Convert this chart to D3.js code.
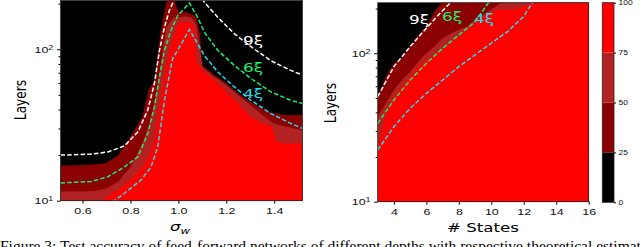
<!DOCTYPE html>
<html>
<head>
<meta charset="utf-8">
<title>Test accuracy vs depth</title>
<script src="https://d3js.org/d3.v7.min.js"></script>
<style>
  body { margin: 0; background: white; }
  svg { display: block; font-family: 'DejaVu Sans', sans-serif; }
  .caption { font-family: 'Liberation Serif', serif; }
</style>
</head>
<body>
<svg id="chart" width="640" height="247"></svg>
<script>

// ---- left panel: accuracy contours over sigma_w (layer count where each level ends)
var sigma = [0.508, 0.60, 0.65, 0.685, 0.70, 0.75, 0.80, 0.85, 0.875, 0.90, 0.925, 0.95, 0.975, 1.00, 1.025, 1.05, 1.065, 1.075, 1.09, 1.10, 1.15, 1.20, 1.25, 1.30, 1.35, 1.39, 1.41, 1.45, 1.518];
var sigmaAcc25 = [17.0, 17.2, 17.4, 17.6, 17.8, 20, 26.4, 35.8, 53.7, 62.5, 127, 205, 230, 177, 177, 172, 168, 163, 127, 78.5, 67.6, 59.4, 51, 45, 40.6, 38, 37.5, 36.8, 36.8];
var sigmaAcc50 = [11.5, 11.5, 11.6, 11.9, 12.1, 13.4, 16.7, 23.9, 30.8, 43.9, 76, 140, 159, 163, 165, 163, 155, 144, 103, 76, 65.8, 58, 49.7, 42.8, 36.8, 33, 32, 30.8, 29.2];
var sigmaAcc75 = [8, 8.5, 9.2, 10, 10.6, 11.8, 13.7, 16.7, 19.5, 25.1, 46, 80, 115, 149, 151, 151, 144, 84.5, 76, 72.8, 62.5, 52.3, 43.9, 35.8, 32.4, 31, 24.5, 23.9, 23.9];

// theoretical depth scales, left panel
var xi9Sigma = [0.508, 0.636, 0.706, 0.775, 0.831, 0.872, 0.90, 0.921, 0.942, 0.9625, 0.983, 1.046, 1.108, 1.164, 1.233, 1.303, 1.386, 1.469, 1.518];
var xi9Layers = [20, 20.3, 21, 23, 28.5, 39.6, 59.4, 98.5, 140, 181, 212, 300, 205, 163, 127, 104, 84, 72.5, 67.6];
var xi6Sigma = [0.508, 0.636, 0.706, 0.775, 0.831, 0.872, 0.90, 0.921, 0.942, 0.969, 0.997, 1.046, 1.08, 1.108, 1.164, 1.233, 1.303, 1.386, 1.469, 1.518];
var xi6Layers = [13.1, 13.4, 14.4, 16.7, 19.5, 27.8, 41.6, 65.8, 98.5, 133, 167, 202, 163, 130, 98.5, 78.5, 64, 52.3, 46, 43.9];
var xi4Sigma = [0.70, 0.733, 0.775, 0.844, 0.886, 0.914, 0.942, 0.976, 0.997, 1.046, 1.08, 1.108, 1.164, 1.233, 1.303, 1.386, 1.469, 1.518];
var xi4Layers = [9.3, 10, 11.2, 13.7, 16.7, 22.7, 46, 87, 98.5, 135, 109, 91, 71, 56.5, 46, 37.6, 32.4, 30];

// ---- right panel: accuracy contours over number of states
var states = [3, 3.5, 4, 4.5, 5, 5.5, 6, 6.5, 7, 7.5, 8, 8.5, 9, 9.5, 10, 10.5, 11, 11.5, 12, 12.5, 13, 14, 15, 16];
var statesAcc25 = [51, 69.6, 85.7, 92.5, 111, 133, 151, 191, 223, 260, 260, 260, 260, 260, 260, 260, 260, 260, 260, 260, 260, 260, 260, 260];
var statesAcc50 = [37.4, 46, 56.6, 66, 75, 87.8, 100, 111, 126, 136, 144, 151, 168, 181, 198, 215, 260, 260, 260, 260, 260, 260, 260, 260];
var statesAcc75 = [22.3, 39.4, 51, 59.6, 69.6, 81.3, 90.2, 97.5, 105, 120, 129, 144, 159, 177, 191, 196, 196, 198, 206, 220, 260, 260, 260, 260];

var xi9States = [3, 4, 5, 6, 6.94, 7.55, 8];
var xi9StLayers = [51, 81.3, 111, 147.6, 191, 223, 260];
var xi6States = [3, 4, 5, 6, 7, 8, 9, 9.8, 10.2];
var xi6StLayers = [33.7, 48.4, 66, 85.7, 108, 133, 163, 217, 240];
var xi4States = [3, 4, 5, 6, 7, 8, 9, 10, 11, 12, 12.5, 13];
var xi4StLayers = [22.3, 32, 42.6, 53.7, 66, 81.3, 97.5, 117, 140, 177, 217, 240];

// colour levels (test accuracy, %)
var levels = [0, 25, 50, 75, 100];
var levelColors = ["#000000", "#8b0000", "#b22222", "#ff0000"];
var xiNames = ["9\u03be", "6\u03be", "4\u03be"];
var xiColors = ["#ffffff", "#1aef6e", "#22dcec"];

var sigmaTicks = [0.6, 0.8, 1.0, 1.2, 1.4];
var stateTicks = [4, 6, 8, 10, 12, 14, 16];
var majorLayerTicks = [10, 100];
var minorLayerTicks = [20, 30, 40, 50, 60, 70, 80, 90, 200];

var SX = 1.3; // the figure is squeezed vertically, so glyphs look wide

var svg = d3.select("#chart");

function zip(a, b) {
  return a.map(function(v, i) { return [v, b[i]]; });
}

function drawPanel(p) {
  var g = svg.append("g");
  var x = p.x, y = p.y;
  var x0 = x.range()[0], x1 = x.range()[1];
  var yb = y.range()[0], yt = y.range()[1];

  g.append("clipPath").attr("id", p.id)
    .append("rect").attr("x", x0).attr("y", yt)
    .attr("width", x1 - x0).attr("height", yb - yt);

  var plot = g.append("g").attr("clip-path", "url(#" + p.id + ")");

  // lowest accuracy level fills everything first
  plot.append("rect")
    .attr("x", x0).attr("y", yt)
    .attr("width", x1 - x0).attr("height", yb - yt)
    .attr("fill", levelColors[0]);

  var area = d3.area()
    .x(function(d) { return x(d[0]); })
    .y0(yb + 20)
    .y1(function(d) { return y(d[1]); });

  p.bounds.forEach(function(b, i) {
    plot.append("path")
      .datum(zip(p.xs, b))
      .attr("d", area)
      .attr("fill", levelColors[i + 1]);
  });

  var line = d3.line()
    .x(function(d) { return x(d[0]); })
    .y(function(d) { return y(d[1]); });

  p.lines.forEach(function(l, i) {
    plot.append("path")
      .datum(zip(l[0], l[1]))
      .attr("d", line)
      .attr("fill", "none")
      .attr("stroke", xiColors[i])
      .attr("stroke-width", 1.5)
      .attr("stroke-dasharray", "4.5,2.2");
  });

  p.labels.forEach(function(l, i) {
    g.append("text")
      .attr("transform", "translate(" + l[0] + "," + l[1] + ") scale(" + SX + ",1)")
      .attr("text-anchor", "middle")
      .attr("font-size", 13)
      .attr("fill", xiColors[i])
      .text(xiNames[i]);
  });

  // frame
  g.append("rect")
    .attr("x", x0).attr("y", yt)
    .attr("width", x1 - x0).attr("height", yb - yt)
    .attr("fill", "none").attr("stroke", "#222").attr("stroke-width", 0.8);

  // x axis
  var xa = g.append("g")
    .attr("transform", "translate(0," + yb + ")")
    .call(d3.axisBottom(x).tickValues(p.xTicks).tickSize(3).tickPadding(3)
      .tickFormat(p.xFormat));
  xa.select(".domain").remove();
  xa.selectAll("text").attr("font-size", 9.6).attr("fill", "#111")
    .attr("transform", "scale(" + SX + ",1)");

  // y axis, log
  var ya = g.append("g")
    .attr("transform", "translate(" + x0 + ",0)")
    .call(d3.axisLeft(y).tickValues(majorLayerTicks).tickSize(3.5).tickPadding(2)
      .tickFormat(function() { return "10"; }));
  ya.select(".domain").remove();
  ya.selectAll("text").attr("font-size", 9.6).attr("fill", "#111")
    .attr("transform", "scale(" + SX + ",1)")
    .append("tspan").attr("dy", "-0.45em").attr("font-size", "0.72em")
    .text(function(d) { return Math.round(Math.log10(d)); });

  var ym = g.append("g")
    .attr("transform", "translate(" + x0 + ",0)")
    .call(d3.axisLeft(y).tickValues(minorLayerTicks.filter(function(v) {
      return y(v) >= yt; })).tickSize(2).tickFormat(""));
  ym.select(".domain").remove();

  // axis titles
  g.append("text")
    .attr("transform", "translate(" + p.yTitle[0] + "," + p.yTitle[1] + ") scale(" + SX + ",1) rotate(-90)")
    .attr("text-anchor", "middle")
    .attr("font-size", 12.2)
    .text("Layers");

  var xt = g.append("text")
    .attr("transform", "translate(" + p.xTitle[0] + "," + p.xTitle[1] + ") scale(" + SX + ",1)")
    .attr("text-anchor", "middle")
    .attr("font-size", 12.8);
  if (p.sigmaTitle) {
    xt.append("tspan").attr("font-style", "italic").text("\u03c3");
    xt.append("tspan").attr("font-style", "italic").attr("font-size", 9).attr("dy", 3).text("w");
  } else {
    xt.text("# States");
  }
}

drawPanel({
  id: "clipL",
  x: d3.scaleLinear().domain([0.508, 1.518]).range([60.5, 302.5]),
  y: d3.scaleLog().domain([10, 210]).range([200.7, 0.5]),
  xs: sigma,
  bounds: [sigmaAcc25, sigmaAcc50, sigmaAcc75],
  lines: [[xi9Sigma, xi9Layers], [xi6Sigma, xi6Layers], [xi4Sigma, xi4Layers]],
  labels: [[253, 45], [253, 72], [253, 98]],
  xTicks: sigmaTicks,
  xFormat: d3.format(".1f"),
  yTitle: [26, 100],
  xTitle: [180, 231],
  sigmaTitle: true
});

drawPanel({
  id: "clipR",
  x: d3.scaleLinear().domain([3, 16]).range([377.7, 588.7]),
  y: d3.scaleLog().domain([10, 219]).range([201.7, 2.7]),
  xs: states,
  bounds: [statesAcc25, statesAcc50, statesAcc75],
  lines: [[xi9States, xi9StLayers], [xi6States, xi6StLayers], [xi4States, xi4StLayers]],
  labels: [[419, 24], [452, 21], [484, 22.5]],
  xTicks: stateTicks,
  xFormat: d3.format("d"),
  yTitle: [336, 103],
  xTitle: [483, 232],
  sigmaTitle: false
});

// colour bar
var cb = d3.scaleLinear().domain([0, 100]).range([202.3, 2.7]);
var cbar = svg.append("g");
cbar.selectAll("rect.lvl")
  .data(levelColors)
  .enter().append("rect")
  .attr("class", "lvl")
  .attr("x", 602.3)
  .attr("y", function(d, i) { return cb(levels[i + 1]); })
  .attr("width", 11.7)
  .attr("height", function(d, i) { return cb(levels[i]) - cb(levels[i + 1]); })
  .attr("fill", function(d) { return d; });
cbar.append("rect")
  .attr("x", 602.3).attr("y", 2.7).attr("width", 11.7).attr("height", 199.6)
  .attr("fill", "none").attr("stroke", "#222").attr("stroke-width", 0.8);
var ca = cbar.append("g")
  .attr("transform", "translate(614,0)")
  .call(d3.axisRight(cb).tickValues(levels).tickSize(2).tickPadding(1.5));
ca.select(".domain").remove();
ca.selectAll("text").attr("font-size", 6.5).attr("fill", "#111")
  .attr("transform", "scale(" + SX + ",1)");

// figure caption, cut off by the bottom edge like in the source figure
svg.append("text")
  .attr("class", "caption")
  .attr("x", 0).attr("y", 251)
  .attr("font-size", 15.5)
  .text("Figure 3:  Test accuracy of feed-forward networks of different depths with respective theoretical estimations");

</script>
</body>
</html>
